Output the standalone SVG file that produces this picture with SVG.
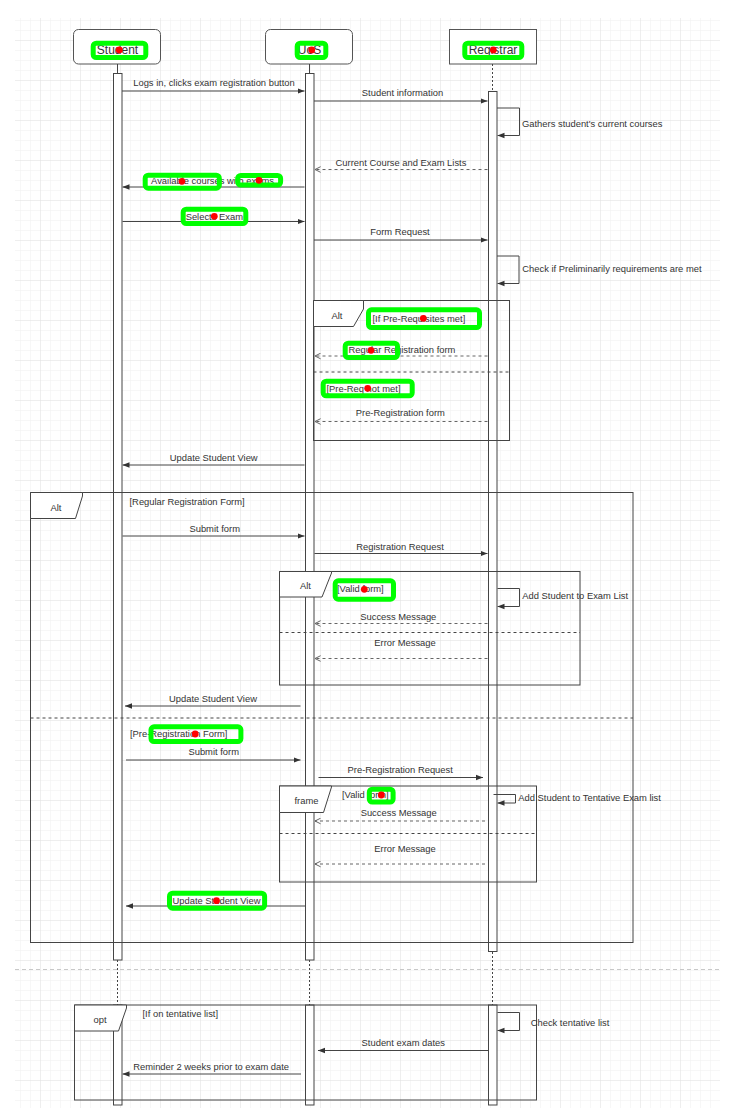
<svg xmlns="http://www.w3.org/2000/svg" width="736" height="1119" viewBox="0 0 736 1119">
  <defs>
    <pattern id="gridMinor" width="10" height="10" patternUnits="userSpaceOnUse">
      <path d="M10,0 H0 V10" fill="none" stroke="#efefef" stroke-width="1"/>
    </pattern>
    <pattern id="gridMajor" width="40" height="40" patternUnits="userSpaceOnUse">
      <rect width="40" height="40" fill="url(#gridMinor)"/>
      <path d="M40,0 H0 V40" fill="none" stroke="#e3e3e3" stroke-width="1"/>
    </pattern>
    <marker id="blk" viewBox="0 0 10 10" refX="10" refY="5" markerWidth="7" markerHeight="7" markerUnits="userSpaceOnUse" orient="auto">
      <path d="M0,1 L10,5 L0,9 Z" fill="#333"/>
    </marker>
    <marker id="opn" viewBox="0 0 10 10" refX="9" refY="5" markerWidth="7" markerHeight="7" markerUnits="userSpaceOnUse" orient="auto">
      <path d="M1,1 L9,5 L1,9" fill="none" stroke="#555" stroke-width="1.3"/>
    </marker>
    <style>
      .ln { stroke: #444; stroke-width: 1; fill: none; }
      .dsh { stroke-dasharray: 3 3; }
      .dot2 { stroke-dasharray: 2 2; }
      .msg { marker-end: url(#blk); }
      .ret { marker-end: url(#opn); stroke: #666; }
      .bar { fill: #fff; stroke: #444; stroke-width: 1; }
      .tab { fill: #fff; stroke: #444; stroke-width: 1; }
      .hdr { fill: #fff; stroke: #555; stroke-width: 1; }
      .t { font-family: "Liberation Sans", Arial, sans-serif; font-size: 9.4px; fill: #333; }
      .m { text-anchor: middle; }
      .h { font-size: 12px; }
      .hl { fill: none; stroke: #00ff00; stroke-width: 5; }
      .pt { fill: #ff0000; }
    </style>
  </defs>

  <!-- canvas grid -->
  <rect x="0" y="0" width="736" height="1119" fill="#fff"/>
  <rect x="15" y="18" width="705" height="1090" fill="url(#gridMajor)"/>
  <line x1="15" y1="969.5" x2="720" y2="969.5" stroke="#c8c8c8" stroke-dasharray="4 3"/>

  <!-- lifelines -->
  <g id="student">
    <rect class="hdr" x="73.5" y="29.5" width="87" height="34.5" rx="5"/>
    <text class="t m h" x="117.5" y="54">Student</text>
    <line class="ln" x1="117.5" y1="64" x2="117.5" y2="73"/>
    <rect class="bar" x="113.5" y="73.5" width="8.5" height="886.5"/>
    <line class="ln dot2" x1="117.5" y1="960" x2="117.5" y2="1005"/>
    <rect class="bar" x="113.5" y="1005" width="8.5" height="100"/>
  </g>
  <g id="uos">
    <rect class="hdr" x="265.5" y="29.5" width="87" height="34.5" rx="5"/>
    <text class="t m h" x="309.5" y="54">UoS</text>
    <line class="ln" x1="309.5" y1="64" x2="309.5" y2="73"/>
    <rect class="bar" x="305.5" y="73.5" width="8.5" height="886.5"/>
    <line class="ln dot2" x1="309.5" y1="960" x2="309.5" y2="1005"/>
    <rect class="bar" x="305.5" y="1005" width="8.5" height="100"/>
  </g>
  <g id="registrar">
    <rect class="hdr" x="449.5" y="29.5" width="87" height="34.5"/>
    <text class="t m h" x="493" y="54">Registrar</text>
    <line class="ln dot2" x1="492.5" y1="64" x2="492.5" y2="91"/>
    <rect class="bar" x="488.5" y="91.5" width="8.5" height="860"/>
    <line class="ln dot2" x1="492.5" y1="952" x2="492.5" y2="1005"/>
    <rect class="bar" x="488.5" y="1005" width="8.5" height="100"/>
  </g>

  <!-- combined fragments -->
  <g id="alt-prereq">
    <rect class="ln" x="313.5" y="300.5" width="196" height="140"/>
    <path class="tab" d="M313.5,300.5 H363.5 V309 L353.5,326.5 H313.5 Z"/>
    <text class="t m" x="337" y="318.5">Alt</text>
    <line class="ln dsh" x1="313.5" y1="372" x2="509.5" y2="372"/>
    <text class="t" x="372.5" y="321.5">[If Pre-Requisites met]</text>
    <text class="t" x="326.5" y="391.5">[Pre-Req not met]</text>
  </g>
  <g id="alt-form">
    <rect class="ln" x="30.5" y="492.5" width="602.5" height="450"/>
    <path class="tab" d="M30.5,492.5 H82.5 V496 L75.5,518.5 H30.5 Z"/>
    <text class="t m" x="56" y="510.5">Alt</text>
    <line class="ln dsh" x1="30.5" y1="718" x2="633" y2="718"/>
    <text class="t" x="129.5" y="504.5">[Regular Registration Form]</text>
    <text class="t" x="130" y="737">[Pre-Registration Form]</text>
  </g>
  <g id="alt-valid">
    <rect class="ln" x="279.5" y="571.5" width="300.5" height="113.5"/>
    <path class="tab" d="M279.5,571.5 H331.5 V573 L322,597 H279.5 Z"/>
    <text class="t m" x="305.5" y="589">Alt</text>
    <line class="ln dsh" x1="279.5" y1="632.5" x2="580" y2="632.5"/>
    <text class="t" x="337" y="592.3">[Valid form]</text>
  </g>
  <g id="frame-valid">
    <rect class="ln" x="279.5" y="786" width="257" height="96"/>
    <path class="tab" d="M279.5,786 H331.5 V787 L323.5,812.5 H279.5 Z"/>
    <text class="t m" x="306.5" y="804">frame</text>
    <line class="ln dsh" x1="279.5" y1="833.5" x2="536.5" y2="833.5"/>
    <text class="t" x="342" y="798">[Valid form]</text>
  </g>
  <g id="opt-tentative">
    <rect class="ln" x="74.5" y="1005" width="462" height="95"/>
    <path class="tab" d="M74.5,1005 H126.5 V1008 L118.5,1031 H74.5 Z"/>
    <text class="t m" x="100" y="1023">opt</text>
    <text class="t" x="142.5" y="1017">[If on tentative list]</text>
  </g>

  <!-- messages -->
  <g id="connectors">
    <line class="ln msg" x1="122" y1="91" x2="304.5" y2="91"/>
    <line class="ln msg" x1="314" y1="101" x2="487.5" y2="101"/>
    <path class="ln msg" d="M497,108 H519.5 V135.5 H497.5"/>
    <line class="ln dsh ret" x1="487.5" y1="169.5" x2="315" y2="169.5"/>
    <line class="ln msg" x1="304.5" y1="187" x2="122.5" y2="187"/>
    <line class="ln msg" x1="122.5" y1="221.5" x2="304.5" y2="221.5"/>
    <line class="ln msg" x1="314" y1="240" x2="487.5" y2="240"/>
    <path class="ln msg" d="M497,256 H519 V283.5 H497.5"/>
    <line class="ln dsh ret" x1="487.5" y1="356" x2="315" y2="356"/>
    <line class="ln dsh ret" x1="487.5" y1="421.5" x2="315" y2="421.5"/>
    <line class="ln msg" x1="304.5" y1="465" x2="122.5" y2="465"/>
    <line class="ln msg" x1="122.5" y1="536" x2="304.5" y2="536"/>
    <line class="ln msg" x1="314.5" y1="553.5" x2="487.5" y2="553.5"/>
    <path class="ln msg" d="M497.5,588.5 H519.5 V606.5 H497.5"/>
    <line class="ln dsh ret" x1="487.5" y1="623.5" x2="315" y2="623.5"/>
    <line class="ln dsh ret" x1="487.5" y1="658.5" x2="315" y2="658.5"/>
    <line class="ln msg" x1="300.5" y1="706" x2="125" y2="706"/>
    <line class="ln msg" x1="126" y1="760" x2="300.5" y2="760"/>
    <line class="ln msg" x1="318.5" y1="777.5" x2="483" y2="777.5"/>
    <path class="ln msg" d="M493.5,794.5 H515.5 V803 H497.5"/>
    <line class="ln dsh ret" x1="485" y1="821" x2="315" y2="821"/>
    <line class="ln dsh ret" x1="485" y1="864" x2="315" y2="864"/>
    <line class="ln msg" x1="305" y1="906" x2="126" y2="906"/>
    <path class="ln msg" d="M497.5,1012.5 H519.5 V1030.5 H497.5"/>
    <line class="ln msg" x1="488" y1="1050.5" x2="318" y2="1050.5"/>
    <line class="ln msg" x1="301" y1="1074" x2="122.5" y2="1074"/>
  </g>

  <!-- message labels -->
  <g id="labels">
    <text class="t m" x="214" y="86">Logs in, clicks exam registration button</text>
    <text class="t m" x="402.5" y="96">Student information</text>
    <text class="t" x="522" y="126.5">Gathers student's current courses</text>
    <text class="t m" x="401" y="165.5">Current Course and Exam Lists</text>
    <text class="t m" x="212.5" y="184.3">Available courses with exams</text>
    <text class="t m" x="214.3" y="219.5">Selects Exam</text>
    <text class="t m" x="400" y="234.7">Form Request</text>
    <text class="t" x="522.3" y="272">Check if Preliminarily requirements are met</text>
    <text class="t m" x="402" y="352.5">Regular Registration form</text>
    <text class="t m" x="400.3" y="415.7">Pre-Registration form</text>
    <text class="t m" x="213.7" y="461.3">Update Student View</text>
    <text class="t m" x="214.7" y="532.3">Submit form</text>
    <text class="t m" x="400" y="549.7">Registration Request</text>
    <text class="t" x="522.3" y="599">Add Student to Exam List</text>
    <text class="t m" x="398.3" y="619.7">Success Message</text>
    <text class="t m" x="405" y="645.7">Error Message</text>
    <text class="t m" x="213" y="702.3">Update Student View</text>
    <text class="t m" x="213.7" y="755.3">Submit form</text>
    <text class="t m" x="400.2" y="773">Pre-Registration Request</text>
    <text class="t" x="518.3" y="801.3">Add Student to Tentative Exam list</text>
    <text class="t m" x="398.7" y="816.3">Success Message</text>
    <text class="t m" x="405" y="852">Error Message</text>
    <text class="t m" x="216.5" y="903.7">Update Student View</text>
    <text class="t" x="530.7" y="1025.7">Check tentative list</text>
    <text class="t m" x="403.3" y="1046.3">Student exam dates</text>
    <text class="t m" x="211.2" y="1070.3">Reminder 2 weeks prior to exam date</text>
  </g>

  <!-- green text-region markers with centre points -->
  <g id="markers">
    <rect class="hl" x="93.2" y="43.2" width="52.6" height="14.3" rx="3"/>
    <rect class="hl" x="297.2" y="43.2" width="28.6" height="14.3" rx="3"/>
    <rect class="hl" x="464.8" y="43.2" width="57" height="14.3" rx="3"/>
    <rect class="hl" x="145.2" y="175.2" width="74.1" height="13" rx="3"/>
    <rect class="hl" x="237.7" y="175.5" width="42.9" height="9.5" rx="3"/>
    <rect class="hl" x="183.2" y="209.2" width="62.6" height="14.3" rx="3"/>
    <rect class="hl" x="368.5" y="309.8" width="111" height="17.7" rx="3"/>
    <rect class="hl" x="345.2" y="343.2" width="52.3" height="14.3" rx="3"/>
    <rect class="hl" x="323.2" y="381.2" width="89" height="14.6" rx="3"/>
    <rect class="hl" x="335.2" y="580.8" width="58.3" height="18.4" rx="3"/>
    <rect class="hl" x="151" y="726.8" width="89.9" height="14.7" rx="3"/>
    <rect class="hl" x="369.3" y="789.2" width="23.8" height="12.8" rx="3"/>
    <rect class="hl" x="169.5" y="893.2" width="95.1" height="15" rx="3"/>
    <circle class="pt" cx="119.3" cy="50" r="3.4"/>
    <circle class="pt" cx="311.7" cy="50" r="3.4"/>
    <circle class="pt" cx="493.3" cy="50" r="3.4"/>
    <circle class="pt" cx="181.9" cy="181.3" r="3.4"/>
    <circle class="pt" cx="259" cy="180.3" r="3.4"/>
    <circle class="pt" cx="214.3" cy="216.3" r="3.4"/>
    <circle class="pt" cx="423.3" cy="318.3" r="3.4"/>
    <circle class="pt" cx="371" cy="350.3" r="3.4"/>
    <circle class="pt" cx="367.7" cy="388.3" r="3.4"/>
    <circle class="pt" cx="364.3" cy="589.3" r="3.4"/>
    <circle class="pt" cx="195.2" cy="734" r="3.4"/>
    <circle class="pt" cx="381.3" cy="795" r="3.4"/>
    <circle class="pt" cx="216.5" cy="900.7" r="3.4"/>
  </g>
</svg>
